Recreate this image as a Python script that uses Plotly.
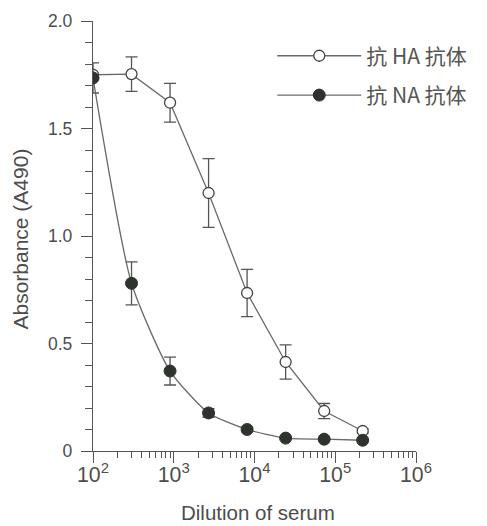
import plotly.graph_objects as go

dilution = [100, 300, 900, 2700, 8100, 24300, 72900, 218700]
ha_values = [1.75, 1.753, 1.62, 1.20, 0.735, 0.414, 0.186, 0.093]
ha_err = [0.0, 0.08, 0.09, 0.16, 0.11, 0.08, 0.035, 0.01]
na_values = [1.735, 0.78, 0.372, 0.177, 0.10, 0.06, 0.055, 0.05]
na_err = [0.07, 0.10, 0.065, 0.02, 0.01, 0.005, 0.005, 0.005]

names = ["抗 HA 抗体", "抗 NA 抗体"]
x_title = "Dilution of serum"
y_title = "Absorbance (A490)"
ink = "#4d4d4d"

fig = go.Figure()
fig.add_trace(go.Scatter(
    x=dilution, y=ha_values, name=names[0], mode="lines+markers", legendgroup="ha",
    line=dict(color="#6a6a6a", width=1.3),
    marker=dict(symbol="circle", size=11, color="white", line=dict(color="#444", width=1.3)),
    error_y=dict(type="data", array=ha_err, color="#555", thickness=1.3, width=6),
))
fig.add_trace(go.Scatter(
    x=dilution, y=na_values, name=names[1], mode="lines+markers", legendgroup="na",
    line=dict(color="#6a6a6a", width=1.3, shape="spline", smoothing=0.6),
    marker=dict(symbol="circle", size=12, color="#2e332e", line=dict(color="#2e332e", width=1)),
    error_y=dict(type="data", array=na_err, color="#555", thickness=1.3, width=6),
))

# page body has an 8px default margin, so the figure is drawn 8px in from the corner
fig.update_layout(
    width=479, height=518,
    margin=dict(l=85, r=71, t=13, b=75),
    paper_bgcolor="white", plot_bgcolor="white",
    font=dict(family="Liberation Sans, Arial, sans-serif", color=ink, size=14),
    legend=dict(x=0.555, y=0.966, xanchor="left", yanchor="top",
                font=dict(family="Noto Sans CJK SC", size=21, color="#555"),
                itemwidth=84, tracegroupgap=9, bgcolor="rgba(0,0,0,0)"),
    showlegend=True,
    annotations=[
        dict(text=x_title, xref="paper", yref="paper", x=0.511, y=-0.142,
             xanchor="center", yanchor="middle", showarrow=False, font=dict(size=20.5, color=ink)),
        dict(text=y_title, xref="paper", yref="paper", x=-0.223, y=0.494, textangle=-90,
             xanchor="center", yanchor="middle", showarrow=False, font=dict(size=21, color=ink)),
    ],
)
fig.update_xaxes(
    type="log", range=[2, 6], dtick=1, exponentformat="power",
    showline=True, linecolor="#555", linewidth=1.3, showgrid=False, zeroline=False,
    ticks="outside", ticklen=11, tickwidth=1.4, tickcolor="#555",
    minor=dict(ticks="outside", ticklen=6, tickwidth=1.2, tickcolor="#555", dtick="D1", showgrid=False),
    tickfont=dict(size=17), ticklabelstandoff=-6, automargin=False,
)
fig.update_yaxes(
    range=[0, 2.0], tickvals=[0, 0.5, 1.0, 1.5, 2.0], ticktext=["0", "0.5", "1.0", "1.5", "2.0"],
    showline=True, linecolor="#555", linewidth=1.3, showgrid=False, zeroline=False,
    ticks="outside", ticklen=11, tickwidth=1.3, tickcolor="#555",
    minor=dict(ticks="outside", ticklen=7, tickwidth=1.2, tickcolor="#555", dtick=0.1, showgrid=False),
    tickfont=dict(size=17.5), ticklabelstandoff=5, automargin=False,
)

fig.write_html("out.html")
